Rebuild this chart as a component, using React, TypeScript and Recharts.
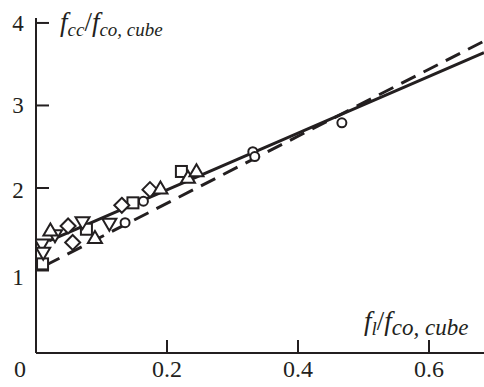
import { ComposedChart, Line, Scatter, XAxis, YAxis } from "recharts";

// marker groups, [fl/fco,cube , fcc/fco,cube]
const squares = [
  [0.01, 1.08],
  [0.077, 1.5],
  [0.148, 1.82],
  [0.222, 2.2],
];
const diamonds = [
  [0.049, 1.54],
  [0.056, 1.34],
  [0.131, 1.79],
  [0.174, 1.98],
];
const upTriangles = [
  [0.022, 1.49],
  [0.09, 1.4],
  [0.19, 2.0],
  [0.232, 2.13],
  [0.245, 2.21],
];
const downTriangles = [
  [0.009, 1.31],
  [0.011, 1.21],
  [0.029, 1.42],
  [0.071, 1.58],
  [0.112, 1.56],
];
const circles = [
  [0.136, 1.58],
  [0.164, 1.84],
  [0.331, 2.44],
  [0.334, 2.38],
  [0.467, 2.79],
];

// fitted lines (end points)
const solidFit = [
  [0.02, 1.36],
  [0.684, 3.64],
];
const dashedFit = [
  [0.014, 1.06],
  [0.684, 3.78],
];

const xTicks = [0, 0.2, 0.4, 0.6];
const yTicks = [1, 2, 3, 4];

const toRows = (pts: number[][]) => pts.map(([x, y]) => ({ x, y }));

const FONT = '"Liberation Serif", "Times New Roman", serif';
const INK = "#231f20";

function XTick({ x, y, payload }: any) {
  const v = payload.value;
  return (
    <g>
      {v !== 0 && <line x1={x} y1={y} x2={x} y2={y - 13} stroke={INK} strokeWidth={2} />}
      <text
        x={v === 0 ? 20 : x}
        y={y + 24}
        textAnchor="middle"
        fontFamily={FONT}
        fontSize={24}
        fill={INK}
      >
        {v === 0 ? "0" : v.toFixed(1)}
      </text>
    </g>
  );
}

function YTick({ x, y, payload }: any) {
  const v = payload.value;
  return (
    <g>
      <line x1={x} y1={y} x2={x + 13} y2={y} stroke={INK} strokeWidth={2} />
      <text
        x={18}
        y={y + (v === 1 ? 15 : v === 2 ? 10 : 8)}
        textAnchor="middle"
        fontFamily={FONT}
        fontSize={23}
        fill={INK}
      >
        {v}
      </text>
    </g>
  );
}

const mk = { stroke: INK, strokeWidth: 2, fill: "#fff" };

function Square({ cx, cy }: any) {
  return <rect x={cx - 5.5} y={cy - 5.5} width={11} height={11} {...mk} />;
}
function Diamond({ cx, cy }: any) {
  return <polygon points={`${cx},${cy - 7.5} ${cx + 7.5},${cy} ${cx},${cy + 7.5} ${cx - 7.5},${cy}`} {...mk} />;
}
function UpTri({ cx, cy }: any) {
  return <polygon points={`${cx},${cy - 6.5} ${cx + 7},${cy + 5.5} ${cx - 7},${cy + 5.5}`} {...mk} />;
}
function DownTri({ cx, cy }: any) {
  return <polygon points={`${cx - 7},${cy - 5.5} ${cx + 7},${cy - 5.5} ${cx},${cy + 6.5}`} {...mk} />;
}
function Circle({ cx, cy }: any) {
  return <circle cx={cx} cy={cy} r={4.5} {...mk} />;
}

export default function App() {
  return (
    <div style={{ position: "absolute", left: 0, top: 0, background: "#fff" }}>
      <ComposedChart
        width={484}
        height={387}
        margin={{ top: 18, right: 0, left: 0, bottom: 0 }}
      >
        <XAxis
          type="number"
          dataKey="x"
          domain={[0, 0.684]}
          ticks={xTicks}
          height={34}
          tickSize={0}
          tickMargin={0}
          tick={<XTick />}
          axisLine={{ stroke: INK, strokeWidth: 2 }}
          allowDataOverflow
        />
        <YAxis
          type="number"
          dataKey="y"
          domain={[0, 4.06]}
          ticks={yTicks}
          width={36}
          tickSize={0}
          tickMargin={0}
          tick={<YTick />}
          axisLine={{ stroke: INK, strokeWidth: 2 }}
          allowDataOverflow
        />
        <Line
          data={toRows(dashedFit)}
          dataKey="y"
          stroke={INK}
          strokeWidth={3}
          strokeDasharray="16 9"
          dot={false}
          isAnimationActive={false}
        />
        <Line
          data={toRows(solidFit)}
          dataKey="y"
          stroke={INK}
          strokeWidth={3}
          dot={false}
          isAnimationActive={false}
        />
        <Scatter data={toRows(squares)} shape={<Square />} isAnimationActive={false} />
        <Scatter data={toRows(diamonds)} shape={<Diamond />} isAnimationActive={false} />
        <Scatter data={toRows(downTriangles)} shape={<DownTri />} isAnimationActive={false} />
        <Scatter data={toRows(upTriangles)} shape={<UpTri />} isAnimationActive={false} />
        <Scatter data={toRows(circles)} shape={<Circle />} isAnimationActive={false} />
        <g fontFamily={FONT} fontStyle="italic" fill={INK}>
          <text x={60} y={31} fontSize={27}>
            f
            <tspan fontSize={19} dy={5}>cc</tspan>
            <tspan fontSize={27} dy={-5} fontStyle="normal">/</tspan>
            <tspan fontSize={27}>f</tspan>
            <tspan fontSize={19} dy={5}>co, cube</tspan>
          </text>
          <text x={364} y={330} fontSize={27}>
            f
            <tspan fontSize={19} dy={5}>l</tspan>
            <tspan fontSize={27} dy={-5} fontStyle="normal">/</tspan>
            <tspan fontSize={27}>f</tspan>
            <tspan fontSize={23} dy={5}>co, cube</tspan>
          </text>
        </g>
      </ComposedChart>
    </div>
  );
}
